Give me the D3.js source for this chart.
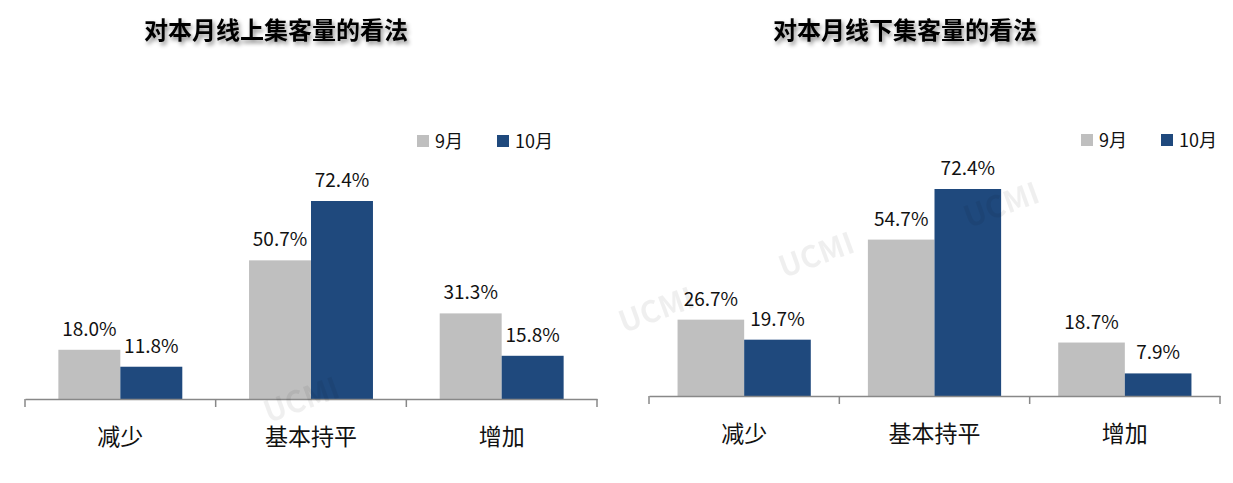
<!DOCTYPE html>
<html><head><meta charset="utf-8">
<script src="https://cdn.jsdelivr.net/npm/d3@7"></script>
<style>body{margin:0;background:#fff}text{font-family:"Noto Sans CJK SC","Noto Sans",sans-serif}</style>
</head><body>
<svg id="c" width="1233" height="483"></svg>
<script>
const categories=["减少","基本持平","增加"];
const seriesNames=["9月","10月"];
const colors=["#bfbfbf","#1f497d"];
const onlineSep=[18.0,50.7,31.3];
const onlineOct=[11.8,72.4,15.8];
const offlineSep=[26.7,54.7,18.7];
const offlineOct=[19.7,72.4,7.9];
const titles=["对本月线上集客量的看法","对本月线下集客量的看法"];

const svg=d3.select("#c");
const defs=svg.append("defs");
const f=defs.append("filter").attr("id","sh").attr("x","-10%").attr("y","-30%").attr("width","130%").attr("height","180%");
f.append("feDropShadow").attr("dx",2).attr("dy",3).attr("stdDeviation",2).attr("flood-color","#000").attr("flood-opacity",0.45);

const panels=[
 {x0:25,x1:597,base:399,top:201,titleX:276,legX:417,s:[onlineSep,onlineOct]},
 {x0:649,x1:1220,base:396,top:189,titleX:905,legX:1081,s:[offlineSep,offlineOct]}
];
panels.forEach((p,pi)=>{
 const g=svg.append("g");
 const x=d3.scaleBand().domain(categories).range([p.x0,p.x1]).paddingInner(0).paddingOuter(0);
 const pad=(pi==0)?0.35:0.3;
 const x1=d3.scaleBand().domain(seriesNames).range([x.bandwidth()*pad/2,x.bandwidth()*(1-pad/2)]);
 const y=d3.scaleLinear().domain([0,72.4]).range([p.base,p.top]);
 g.append("text").attr("x",p.titleX).attr("y",39).attr("text-anchor","middle").attr("font-size",24).attr("font-weight","bold").attr("filter","url(#sh)").text(titles[pi]);
 seriesNames.forEach((sn,si)=>{
  const vals=p.s[si];
  g.selectAll(null).data(categories).enter().append("rect")
   .attr("x",c=>x(c)+x1(sn)).attr("width",x1.bandwidth())
   .attr("y",(c,i)=>y(vals[i])).attr("height",(c,i)=>p.base-y(vals[i])).attr("fill",colors[si]);
  g.selectAll(null).data(categories).enter().append("text")
   .attr("x",c=>x(c)+x1(sn)+x1.bandwidth()/2).attr("y",(c,i)=>y(vals[i])-14)
   .attr("text-anchor","middle").attr("font-size",19).attr("fill","#111").text((c,i)=>vals[i].toFixed(1)+"%");
 });
 const ax=g.append("g").attr("transform",`translate(0,${p.base})`).call(d3.axisBottom(x).tickSize(0).tickPadding(30));
 ax.select(".domain").attr("stroke","#888").attr("stroke-width",1.5);
 ax.selectAll("text").attr("font-size",23).attr("fill","#111").style("font-family","'Noto Sans CJK SC'");
 [p.x0,...categories.map(c=>x(c)+x.bandwidth())].forEach(t=>{
  g.append("line").attr("x1",t).attr("x2",t).attr("y1",p.base).attr("y2",p.base+8).attr("stroke","#888").attr("stroke-width",1.5);
 });
 const lg=g.append("g").attr("transform",`translate(${p.legX},${pi==0?135:134})`);
 seriesNames.forEach((sn,si)=>{
  const gx=si*80;
  lg.append("rect").attr("x",gx).attr("y",0).attr("width",12).attr("height",12).attr("fill",colors[si]);
  lg.append("text").attr("x",gx+18).attr("y",13).attr("font-size",18).attr("fill","#111").text(sn);
 });
});
[[660,320],[820,265],[305,410],[1005,215]].forEach(([wx,wy])=>{
 svg.append("text").attr("transform",`translate(${wx},${wy}) rotate(-20)`).attr("text-anchor","middle").attr("font-size",30).attr("font-weight","bold").attr("fill","#000").attr("opacity",0.06).text("UCMI");
});
</script>
</body></html>
